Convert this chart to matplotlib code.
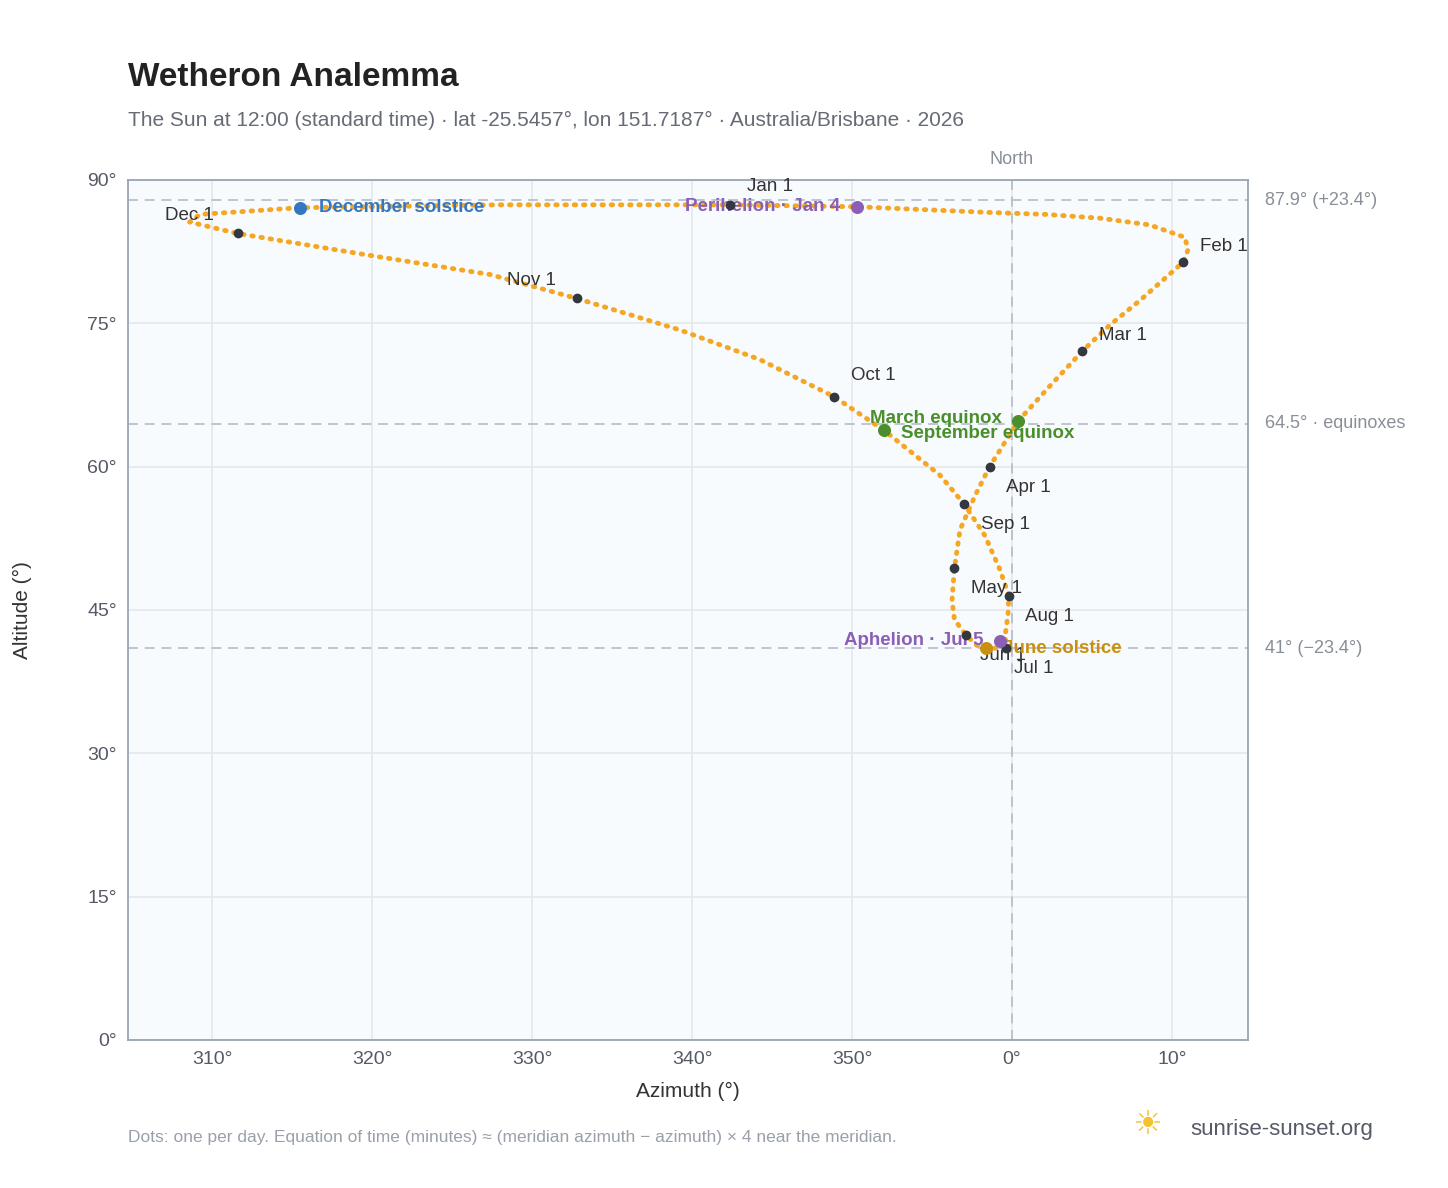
import numpy as np
import matplotlib.pyplot as plt

plt.rcParams['font.family'] = ['Liberation Sans', 'DejaVu Sans']

# samples (azimuth continuous past 360)
AZ = [342.4, 350.3, 358.6, 362.1, 365.5, 368.6, 370.8, 371.0, 370.7, 368.0, 366.1, 364.4,
      362.4, 360.4, 358.6, 357.7, 356.75, 356.4, 356.25, 356.4, 357.1, 357.8, 358.4, 359.6,
      359.6, 359.75, 359.8, 359.25, 358.3, 357.0, 355.5, 352.0, 348.9, 344.25, 339.25, 332.8,
      327.4, 319.9, 311.6, 308.6, 309.25, 315.5, 328.0, 342.4]
ALT = [87.4, 87.2, 86.6, 86.4, 86.0, 85.3, 84.0, 82.7, 81.4, 77.4, 74.8, 72.1,
       68.5, 64.8, 60.0, 57.0, 53.4, 49.4, 46.0, 44.0, 42.4, 41.3, 41.0, 41.0,
       42.7, 44.5, 46.5, 49.2, 52.8, 56.1, 59.1, 63.8, 67.3, 71.2, 74.3, 77.6,
       80.1, 82.1, 84.4, 85.6, 86.4, 87.1, 87.4, 87.4]

MONTHS = ['Jan 1', 'Feb 1', 'Mar 1', 'Apr 1', 'May 1', 'Jun 1', 'Jul 1', 'Aug 1', 'Sep 1', 'Oct 1', 'Nov 1', 'Dec 1']
M_AZ = [342.4, 370.7, 364.4, 358.6, 356.4, 357.1, 359.6, 359.8, 357.0, 348.9, 332.8, 311.6]
M_ALT = [87.4, 81.4, 72.1, 60.0, 49.4, 42.4, 41.0, 46.5, 56.1, 67.3, 77.6, 84.4]
M_OFF = [(12, 10), (12, 8), (12, 8), (12, -18), (12, -18), (10, -18), (6, -18), (12, -18), (12, -18), (12, 12), (-50, 10), (-52, 10)]

EVENTS = ['December solstice', 'Perihelion · Jan 4', 'March equinox', 'September equinox', 'June solstice', 'Aphelion · Jul 5']
E_AZ = [315.5, 350.3, 360.4, 352.0, 358.4, 359.25]
E_ALT = [87.1, 87.2, 64.8, 63.8, 41.0, 41.8]
E_COL = ['#3477c0', '#8a5fb5', '#4a8f2c', '#4a8f2c', '#c9900f', '#8a5fb5']

REF_ALT = [87.9, 64.5, 41.0]
REF_LAB = ['87.9° (+23.4°)', '64.5° · equinoxes', '41° (−23.4°)']

fig = plt.figure(figsize=(14.48, 11.88), dpi=100)
ax = fig.add_axes([0.0884, 0.1246, 0.7735, 0.7239])
ax.set_facecolor('#f8fbfe')
ax.set_xlim(304.75, 374.75)
ax.set_ylim(0, 90)
ax.grid(color='#e4e8ee', lw=1.2)
ax.set_axisbelow(True)
for s in ax.spines.values():
	s.set_color('#9aa4b2')
	s.set_linewidth(1.3)

xt = np.arange(310, 371, 10)
ax.set_xticks(xt)
ax.set_xticklabels(['%d°' % (v % 360) for v in xt])
ax.set_yticks(np.arange(0, 91, 15))
ax.set_yticklabels(['%d°' % v for v in range(0, 91, 15)])
ax.tick_params(length=0, labelsize=14, colors='#555a66', pad=8)
ax.set_xlabel('Azimuth (°)', fontsize=15, color='#333', labelpad=10)
ax.set_ylabel('Altitude (°)', fontsize=15, color='#333', labelpad=40)

for a, l in zip(REF_ALT, REF_LAB):
	ax.axhline(a, color='#b4bcc8', ls=(0, (6, 4)), lw=1.2)
	ax.text(375.8, a, l, fontsize=13, color='#888f99', va='center', ha='left', clip_on=False)
ax.axvline(360, color='#b4bcc8', ls=(0, (6, 4)), lw=1.2)
ax.text(360, 91.3, 'North', fontsize=13, color='#888f99', ha='center', va='bottom')

ax.plot(AZ, ALT, color='#f5a623', lw=3.5, ls=(0, (0.3, 1.6)), dash_capstyle='round', zorder=2)

ax.scatter(M_AZ, M_ALT, s=36, color='#333840', zorder=4)
for n, x, y, o in zip(MONTHS, M_AZ, M_ALT, M_OFF):
	ax.annotate(n, (x, y), xytext=o, textcoords='offset points', fontsize=13.5, color='#333')

offs = [(14, 0), (-12, 0), (-12, 2), (12, -2), (12, 0), (-12, 0)]
for n, x, y, c, o in zip(EVENTS, E_AZ, E_ALT, E_COL, offs):
	ax.scatter([x], [y], s=70, color=c, zorder=5)
	ax.annotate(n, (x, y), xytext=o, textcoords='offset points', fontsize=13.5, color=c,
		fontweight='bold', va='center', ha='left' if o[0] > 0 else 'right')

fig.text(0.0884, 0.928, 'Wetheron Analemma', fontsize=24, fontweight='bold', color='#222')
fig.text(0.0884, 0.894, 'The Sun at 12:00 (standard time) · lat -25.5457°, lon 151.7187° · Australia/Brisbane · 2026',
	fontsize=15, color='#666b75')
fig.text(0.0884, 0.039, 'Dots: one per day. Equation of time (minutes) ≈ (meridian azimuth − azimuth) × 4 near the meridian.',
	fontsize=12.5, color='#9aa0aa')
fig.text(0.822, 0.045, 'sunrise-sunset.org', fontsize=16, color='#555a66')
fig.text(0.792, 0.045, '☀', fontsize=24, color='#f5c12e', ha='center', family='DejaVu Sans')

plt.savefig('out.png', dpi=100)
